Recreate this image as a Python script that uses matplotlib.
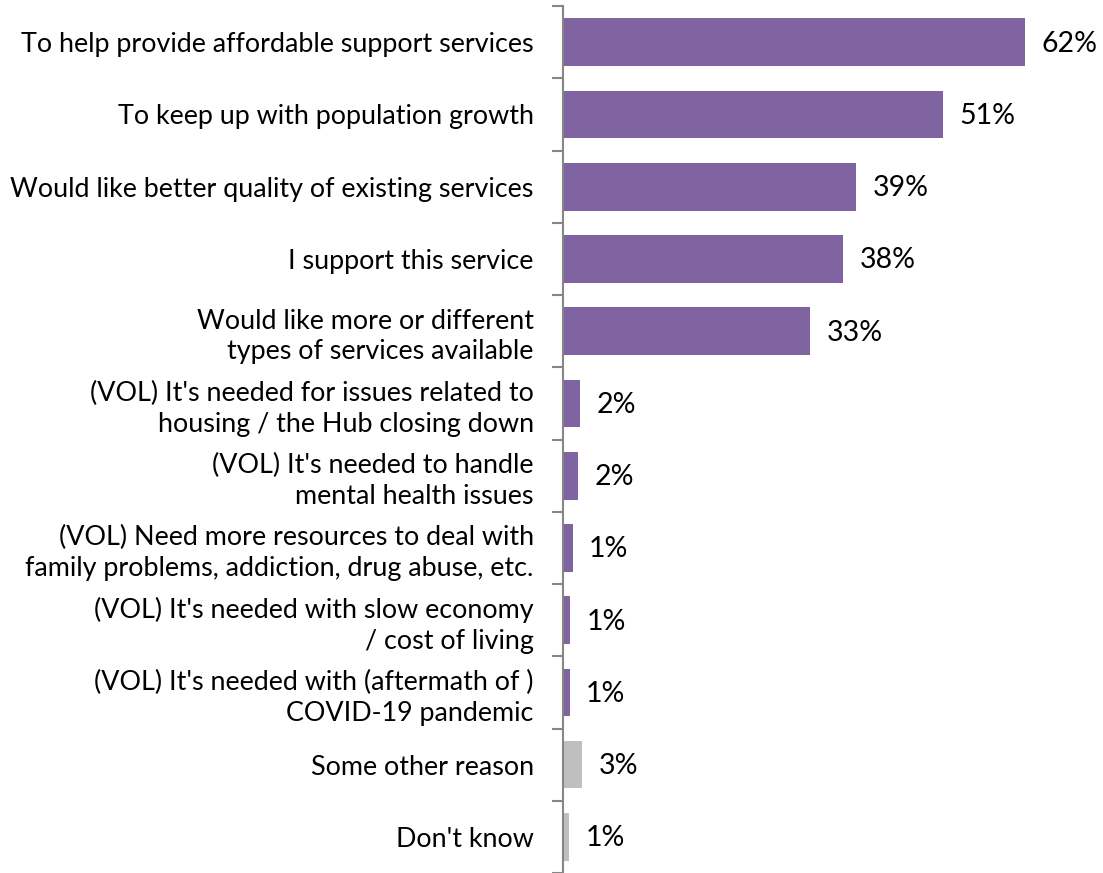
import numpy as np
import matplotlib.pyplot as plt

# --- дані ---
categories = [
    "To help provide affordable support services",
    "To keep up with population growth",
    "Would like better quality of existing services",
    "I support this service",
    "Would like more or different\ntypes of services available",
    "(VOL) It's needed for issues related to\nhousing / the Hub closing down",
    "(VOL) It's needed to handle\nmental health issues",
    "(VOL) Need more resources to deal with\nfamily problems, addiction, drug abuse, etc.",
    "(VOL) It's needed with slow economy\n/ cost of living",
    "(VOL) It's needed with (aftermath of )\nCOVID-19 pandemic",
    "Some other reason",
    "Don't know",
]
values = [62.0, 50.9, 39.3, 37.6, 33.1, 2.3, 2.0, 1.3, 1.0, 0.9, 2.6, 0.8]
is_other = [False] * 10 + [True, True]

purple = '#8064A2'
grey = '#BFBFBF'
colors = [grey if o else purple for o in is_other]

plt.rcParams['font.family'] = ['Lato', 'DejaVu Sans']

fig = plt.figure(figsize=(11.03, 8.73), dpi=100)
ax = fig.add_axes([0.5104, 0.0, 0.4896, 0.993])

y = np.arange(len(categories))
ax.barh(y, values, height=0.66, color=colors)

# підписи значень праворуч від смуг
for yi, v in zip(y, values):
    ax.text(v + 2.2, yi + 0.02, f"{round(v)}%", va='center', ha='left',
            fontsize=20.5, color='black')

ax.set_xlim(0, 72.4)
ax.set_ylim(len(categories) - 0.5, -0.5)

ax.set_yticks(y)
ax.set_yticklabels(categories, fontsize=19.4, linespacing=1.29)
ax.tick_params(axis='y', which='major', length=0, pad=21)
ax.set_yticks(np.arange(-0.5, len(categories), 1), minor=True)
ax.tick_params(axis='y', which='minor', length=8, width=1.5, color='#868686')

ax.set_xticks([])
for s in ['top', 'right', 'bottom']:
    ax.spines[s].set_visible(False)
ax.spines['left'].set_color('#868686')
ax.spines['left'].set_linewidth(1.5)

fig.savefig('out.png', dpi=100)
